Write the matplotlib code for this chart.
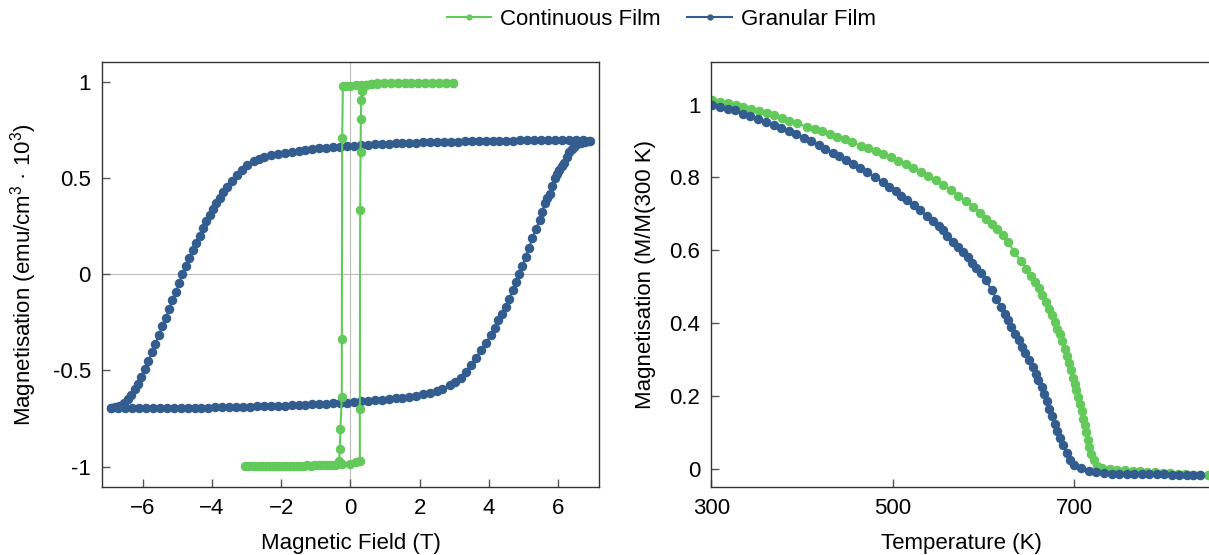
import matplotlib
matplotlib.use("Agg")
import matplotlib.pyplot as plt

plt.rcParams['font.family'] = ['Liberation Sans', 'DejaVu Sans']
plt.rcParams['mathtext.default'] = 'regular'

GREEN = '#62c95a'
BLUE = '#335c8f'

# --- hysteresis loop, granular film (field sweep down, then up) ---
gran_h_down = [6.9, 6.7, 6.5, 6.3, 6.1, 5.9, 5.7, 5.5, 5.3, 5.1, 4.9, 4.7, 4.5, 4.3, 4.1, 3.9,
               3.7, 3.5, 3.3, 3.1, 2.9, 2.7, 2.5, 2.3, 2.1, 1.9, 1.7, 1.5, 1.3, 1.1, 0.9, 0.7,
               0.5, 0.3, 0.1, -0.1, -0.3, -0.5, -0.7, -0.9, -1.1, -1.3, -1.5, -1.7, -1.9, -2.1,
               -2.3, -2.5, -2.65, -2.79, -2.99, -3.13, -3.27, -3.42, -3.56, -3.68, -3.78, -3.87,
               -3.97, -4.06, -4.16, -4.25, -4.35, -4.45, -4.54, -4.66, -4.75, -4.85, -4.95, -5.03,
               -5.14, -5.24, -5.32, -5.43, -5.53, -5.63, -5.74, -5.83, -5.94, -6.04, -6.14, -6.23,
               -6.33, -6.43, -6.55, -6.67, -6.81, -6.91]
gran_m_down = [0.695, 0.697, 0.698, 0.698, 0.698, 0.698, 0.697, 0.697, 0.697, 0.696, 0.696, 0.695,
               0.695, 0.694, 0.694, 0.693, 0.692, 0.692, 0.691, 0.690, 0.689, 0.688, 0.687, 0.686,
               0.685, 0.684, 0.683, 0.682, 0.680, 0.679, 0.677, 0.675, 0.673, 0.671, 0.669, 0.666,
               0.663, 0.660, 0.657, 0.654, 0.650, 0.646, 0.642, 0.637, 0.631, 0.625, 0.619, 0.610,
               0.600, 0.588, 0.566, 0.540, 0.514, 0.483, 0.453, 0.428, 0.398, 0.371, 0.341, 0.310,
               0.276, 0.238, 0.200, 0.164, 0.126, 0.083, 0.043, 0.0, -0.043, -0.093, -0.136, -0.181,
               -0.226, -0.271, -0.316, -0.360, -0.405, -0.452, -0.491, -0.533, -0.569, -0.598,
               -0.626, -0.650, -0.671, -0.684, -0.691, -0.695]
gran_h_up = [-6.9, -6.7, -6.5, -6.3, -6.1, -5.9, -5.7, -5.5, -5.3, -5.1, -4.9, -4.7, -4.5, -4.3,
             -4.1, -3.9, -3.7, -3.5, -3.3, -3.1, -2.9, -2.7, -2.5, -2.3, -2.1, -1.9, -1.7, -1.5,
             -1.3, -1.1, -0.9, -0.7, -0.5, -0.3, -0.1, 0.1, 0.3, 0.5, 0.7, 0.9, 1.1, 1.3, 1.5,
             1.7, 1.9, 2.1, 2.3, 2.5, 2.65, 2.86, 3.02, 3.18, 3.32, 3.47, 3.61, 3.76, 3.90, 4.05,
             4.16, 4.27, 4.38, 4.48, 4.58, 4.69, 4.77, 4.86, 4.96, 5.06, 5.15, 5.25, 5.35, 5.46,
             5.54, 5.61, 5.68, 5.75, 5.82, 5.90, 5.96, 6.02, 6.10, 6.17, 6.24, 6.31, 6.40, 6.46,
             6.55, 6.65, 6.76, 6.88]
gran_m_up = [-0.695, -0.697, -0.697, -0.697, -0.697, -0.697, -0.696, -0.696, -0.696, -0.695,
             -0.695, -0.694, -0.694, -0.693, -0.693, -0.692, -0.691, -0.691, -0.690, -0.689,
             -0.688, -0.687, -0.686, -0.685, -0.684, -0.683, -0.681, -0.680, -0.678, -0.677,
             -0.675, -0.673, -0.671, -0.669, -0.667, -0.664, -0.661, -0.658, -0.655, -0.652,
             -0.649, -0.645, -0.641, -0.636, -0.631, -0.625, -0.618, -0.608, -0.598, -0.578,
             -0.560, -0.538, -0.507, -0.474, -0.437, -0.396, -0.357, -0.318, -0.280, -0.240,
             -0.205, -0.170, -0.127, -0.083, -0.042, 0.0, 0.045, 0.090, 0.138, 0.186, 0.233,
             0.281, 0.326, 0.371, 0.395, 0.417, 0.458, 0.498, 0.520, 0.542, 0.562, 0.580, 0.610,
             0.637, 0.652, 0.663, 0.675, 0.684, 0.690, 0.694]

# --- hysteresis loop, continuous film ---
cont_h = [2.96, 2.76, 2.56, 2.36, 2.16, 1.96, 1.76, 1.56, 1.36, 1.16, 0.96, 0.77, 0.58, 0.45,
          0.30, 0.15, 0.0, -0.12, -0.22, -0.24, -0.25, -0.25, -0.29, -0.31, -0.33, -0.40, -0.55,
          -0.75, -0.95, -1.15, -1.35, -1.55, -1.75, -1.95, -2.15, -2.35, -2.55, -2.75, -2.95,
          -3.05, -2.85, -2.65, -2.45, -2.25, -2.05, -1.85, -1.65, -1.45, -1.25, -1.05, -0.85,
          -0.65, -0.45, -0.25, 0.0, 0.15, 0.27, 0.27, 0.28, 0.29, 0.30, 0.31, 0.33, 0.36, 0.45,
          0.6, 0.77, 0.96, 1.16, 1.36, 1.56, 1.76, 1.96, 2.16, 2.36, 2.56, 2.76, 2.96]
cont_m = [0.993, 0.993, 0.993, 0.993, 0.993, 0.993, 0.993, 0.993, 0.993, 0.993, 0.992, 0.991,
          0.988, 0.985, 0.983, 0.982, 0.981, 0.980, 0.978, 0.707, -0.335, -0.639, -0.804,
          -0.908, -0.970, -0.985, -0.990, -0.993, -0.994, -0.995, -0.995, -0.995, -0.995,
          -0.995, -0.995, -0.995, -0.995, -0.995, -0.995, -0.995, -0.995, -0.995, -0.995,
          -0.995, -0.995, -0.995, -0.995, -0.995, -0.994, -0.993, -0.992, -0.991, -0.990,
          -0.987, -0.985, -0.975, -0.970, -0.700, 0.333, 0.634, 0.805, 0.906, 0.955, 0.975,
          0.985, 0.990, 0.993, 0.993, 0.993, 0.993, 0.993, 0.993, 0.993, 0.993, 0.993, 0.993,
          0.993, 0.993]

# --- M(T)/M(300 K) ---
gran_t = [301, 309.5, 318.7, 326, 334.4, 342.7, 351, 360, 368.4, 376.7, 385, 393.3, 401.6, 409.8,
          418.1, 425.6, 433.5, 440.9, 448.4, 455.9, 463.7, 472, 480.3, 488.6, 496.1, 503.1, 509.3,
          516, 523, 530.1, 537.5, 544.6, 550.8, 555.8, 559.9, 566.5, 572.3, 577.7, 583.1, 587.3,
          592.2, 597.2, 602.6, 608.8, 614.2, 619.2, 623.3, 627.5, 630.8, 634.5, 638.7, 642.8,
          646.2, 650.3, 654.4, 657.7, 660.6, 664, 666.8, 669.8, 672.7, 675.1, 678.5, 681.4, 684.3,
          687.6, 691.7, 695.9, 700, 707.5, 715.8, 724, 733.2, 741.4, 749.7, 758, 766.3, 774.6,
          782.9, 791.2, 799.5, 807.8, 816, 824.4, 830.6, 839]
gran_mt = [0.998, 0.994, 0.989, 0.984, 0.975, 0.968, 0.960, 0.951, 0.943, 0.935, 0.926, 0.918,
           0.908, 0.899, 0.888, 0.878, 0.868, 0.858, 0.847, 0.837, 0.826, 0.815, 0.800, 0.788,
           0.774, 0.763, 0.750, 0.737, 0.723, 0.710, 0.694, 0.679, 0.667, 0.655, 0.640, 0.623,
           0.609, 0.595, 0.582, 0.565, 0.552, 0.538, 0.519, 0.490, 0.467, 0.444, 0.426, 0.408,
           0.389, 0.371, 0.353, 0.334, 0.318, 0.299, 0.279, 0.261, 0.243, 0.224, 0.206, 0.186,
           0.165, 0.144, 0.124, 0.105, 0.085, 0.064, 0.043, 0.025, 0.011, 0.002, -0.006, -0.009,
           -0.012, -0.014, -0.015, -0.015, -0.015, -0.014, -0.014, -0.014, -0.015, -0.016,
           -0.016, -0.016, -0.016, -0.016]
cont_t = [301, 309.5, 318.7, 327, 335.2, 343.5, 352.6, 360.9, 369.2, 377.5, 385.8, 394.1, 405.7,
          414, 422.3, 430.6, 438.9, 447.2, 455.4, 464.6, 472.9, 481.2, 489.4, 497.7, 506, 514.3,
          522.6, 530.9, 539.2, 547.5, 555.8, 564, 572.3, 580.6, 588.9, 596.4, 602.6, 608.8, 615,
          621.3, 627.5, 633.7, 641.2, 647, 652.4, 656.5, 660.7, 664.8, 669, 672.2, 675.1, 678.5,
          681.4, 684.3, 686.8, 689.7, 691.7, 694.2, 696.7, 698.8, 700.8, 702.5, 704.1, 706.2,
          708.3, 709.9, 711.6, 713.2, 714.9, 716.6, 719, 721.5, 724.8, 731.1, 739.4, 747.7, 756,
          764.3, 772.5, 780.8, 789.1, 797.4, 805.7, 814, 822.3, 830.6, 839, 847.3]
cont_mt = [1.012, 1.007, 1.003, 0.998, 0.994, 0.987, 0.982, 0.976, 0.970, 0.963, 0.954, 0.948,
           0.939, 0.932, 0.927, 0.918, 0.911, 0.904, 0.896, 0.887, 0.880, 0.873, 0.864, 0.855,
           0.846, 0.836, 0.826, 0.816, 0.805, 0.792, 0.778, 0.765, 0.750, 0.735, 0.719, 0.703,
           0.687, 0.673, 0.657, 0.641, 0.623, 0.595, 0.571, 0.549, 0.528, 0.513, 0.495, 0.476,
           0.458, 0.440, 0.421, 0.403, 0.385, 0.369, 0.351, 0.330, 0.311, 0.290, 0.270, 0.250,
           0.234, 0.215, 0.197, 0.179, 0.158, 0.137, 0.119, 0.101, 0.080, 0.060, 0.041, 0.025,
           0.009, 0.003, 0.000, -0.003, -0.004, -0.005, -0.007, -0.008, -0.009, -0.011, -0.012,
           -0.014, -0.015, -0.018, -0.016, -0.016]

left_xticks = [-6, -4, -2, 0, 2, 4, 6]
left_yticks = [-1, -0.5, 0, 0.5, 1]
left_ylabels = ['-1', '-0.5', '0', '0.5', '1']
right_xticks = [300, 500, 700]
right_yticks = [0, 0.2, 0.4, 0.6, 0.8, 1]
right_ylabels = ['0', '0.2', '0.4', '0.6', '0.8', '1']

fig = plt.figure(figsize=(12.09, 5.55), dpi=100)
ax1 = fig.add_axes([0.0844, 0.1225, 0.4110, 0.766])
ax2 = fig.add_axes([0.5885, 0.1225, 0.4140, 0.766])

mk = dict(marker='o', markersize=5.8, linewidth=1.5)

# left panel
ax1.axhline(0, color='#bbbbbb', linewidth=0.8, zorder=0)
ax1.axvline(0, color='#bbbbbb', linewidth=0.8, zorder=0)
ax1.plot(gran_h_down, gran_m_down, color=BLUE, **mk)
ax1.plot(gran_h_up, gran_m_up, color=BLUE, **mk)
ax1.plot(cont_h, cont_m, color=GREEN, **mk)
ax1.set_xlim(-7.17, 7.17)
ax1.set_ylim(-1.106, 1.104)
ax1.set_xticks(left_xticks)
ax1.set_yticks(left_yticks)
ax1.set_yticklabels(left_ylabels)
ax1.set_xlabel('Magnetic Field (T)', fontsize=16, labelpad=10)
ax1.set_ylabel('Magnetisation (emu/cm$^3$ · 10$^3$)', fontsize=16, labelpad=10)

# right panel
l1, = ax2.plot(cont_t, cont_mt, color=GREEN, **mk)
l2, = ax2.plot(gran_t, gran_mt, color=BLUE, **mk)
ax2.set_xlim(300, 852)
ax2.set_ylim(-0.05, 1.117)
ax2.set_xticks(right_xticks)
ax2.set_yticks(right_yticks)
ax2.set_yticklabels(right_ylabels)
ax2.set_xlabel('Temperature (K)', fontsize=16, labelpad=10)
ax2.set_ylabel('Magnetisation (M/M(300 K)', fontsize=16, labelpad=10)

for ax in (ax1, ax2):
    ax.tick_params(direction='in', length=6, width=1, color='#555555', labelsize=16, pad=8)
    for s in ax.spines.values():
        s.set_color('#333333')
        s.set_linewidth(1)

fig.legend([l1, l2], ['Continuous Film', 'Granular Film'], loc='upper center',
           bbox_to_anchor=(0.547, 1.02), ncol=2, frameon=False, fontsize=16,
           markerscale=0.6, handlelength=2.0, columnspacing=1.2, handletextpad=0.4)

fig.savefig('out.png', dpi=100)
